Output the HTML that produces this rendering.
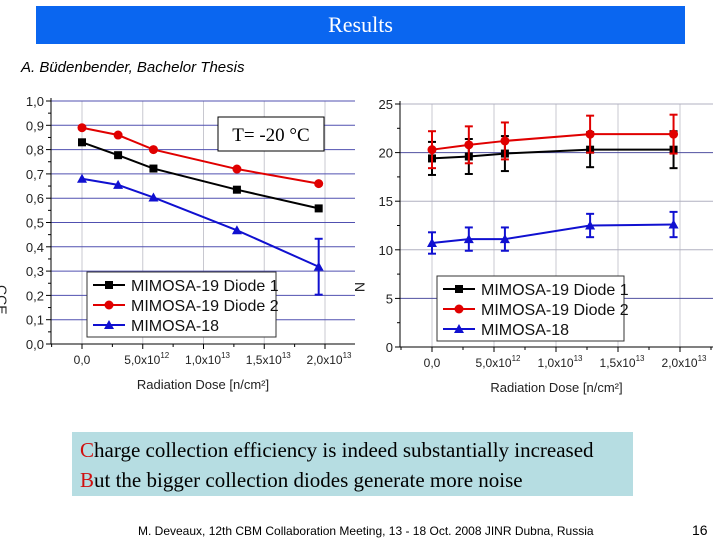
<!DOCTYPE html>
<html><head><meta charset="utf-8">
<style>
body{margin:0;width:720px;height:540px;background:#fff;position:relative;overflow:hidden;font-family:"Liberation Sans",sans-serif}
#hdr{position:absolute;left:36px;top:6px;width:649px;height:38px;background:#0a66f0;color:#fff;font:22px "Liberation Serif",serif;text-align:center;line-height:38px}
#sub{position:absolute;left:21px;top:59px;font:italic 15px "Liberation Sans",sans-serif}
#box{position:absolute;left:72px;top:432px;width:561px;height:64px;background:#b6dde2;font:21px "Liberation Serif",serif;line-height:30px;padding-left:8px;box-sizing:border-box;padding-top:3px}
#box span{color:#d01010}
#foot{position:absolute;left:138px;top:524px;font:12px "Liberation Sans",sans-serif}
#pg{position:absolute;left:692px;top:522px;font:14px "Liberation Sans",sans-serif}
svg{position:absolute;left:0;top:0}
</style></head><body>
<div id="hdr">Results</div>
<div id="sub">A. Büdenbender, Bachelor Thesis</div>
<svg id="chart" width="720" height="420"></svg>
<div id="box"><span>C</span>harge collection efficiency is indeed substantially increased<br><span>B</span>ut the bigger collection diodes generate more noise</div>
<div id="foot">M. Deveaux, 12th CBM Collaboration Meeting, 13 - 18 Oct. 2008 JINR Dubna, Russia</div>
<div id="pg">16</div>
<script>
const doses=[0,2.97e12,5.88e12,1.275e13,1.948e13];
const seriesNames=["MIMOSA-19 Diode 1","MIMOSA-19 Diode 2","MIMOSA-18"];
const cceD1=[0.83,0.777,0.722,0.635,0.558];
const cceD2=[0.89,0.86,0.80,0.72,0.66];
const cceM18=[0.68,0.655,0.603,0.468,0.318];
const cceM18Err=[0,0,0,0,0.115];
const noiseD1=[19.4,19.6,19.9,20.3,20.3];
const noiseD1Err=[1.7,1.8,1.8,1.8,1.9];
const noiseD2=[20.3,20.8,21.2,21.9,21.9];
const noiseD2Err=[1.9,1.9,1.9,1.9,2.0];
const noiseM18=[10.7,11.1,11.1,12.5,12.6];
const noiseM18Err=[1.1,1.2,1.2,1.2,1.3];
const xTicks=["0,0","5,0x10","1,0x10","1,5x10","2,0x10"];
const xTickExp=["","12","13","13","13"];
const leftYTicks=["0,0","0,1","0,2","0,3","0,4","0,5","0,6","0,7","0,8","0,9","1,0"];
const rightYTicks=["0","5","10","15","20","25"];
const colors=["#000","#e00000","#1010d0"];
const svg=document.getElementById('chart');
const NS="http://www.w3.org/2000/svg";
function mk(t,a,p){const e=document.createElementNS(NS,t);for(const k in a)e.setAttribute(k,a[k]);(p||svg).appendChild(e);return e;}
function chart(o){
 const g=mk('g',{});
 
 
 const X=v=>o.x0+(o.x1-o.x0)*v/2e13, Y=v=>o.y0-(o.y0-o.y1)*v/o.ymax;
 for(let i=0;i<5;i++){const x=X(i*5e12);mk('line',{x1:x,x2:x,y1:o.y1,y2:o.y0,stroke:'#c8c8d0','stroke-width':1},g);}
 o.yticks.forEach((t,i)=>{const v=i*o.ystep,y=Y(v);
  if(i>0)mk('line',{x1:o.ax,x2:o.xr,y1:y,y2:y,stroke:o.gridCol(i),'stroke-width':1},g);
  mk('line',{x1:o.ax-5,x2:o.ax,y1:y,y2:y,stroke:'#000'},g);
  if(i<o.yticks.length-1)mk('line',{x1:o.ax-3,x2:o.ax,y1:Y(v+o.ystep/2),y2:Y(v+o.ystep/2),stroke:'#000'},g);
  const tx=mk('text',{x:o.ax-7,y:y+5,'text-anchor':'end','font-size':13,fill:'#222'},g);tx.textContent=t;});
 mk('line',{x1:o.ax,x2:o.ax,y1:o.y1-3,y2:o.y0,stroke:'#000'},g);
 mk('line',{x1:o.ax,x2:o.xr,y1:o.y0,y2:o.y0,stroke:'#000'},g);
 for(let i=-1;i<10;i++){const x=X(i*2.5e12);if(x<o.ax||x>o.xr)continue;mk('line',{x1:x,x2:x,y1:o.y0,y2:o.y0+(i%2==0?5:3),stroke:'#000'},g);}
 xTicks.forEach((t,i)=>{const tx=mk('text',{x:X(i*5e12)+(i?4:0),y:o.y0+20,'text-anchor':'middle','font-size':12,fill:'#222'},g);tx.textContent=t;
  if(xTickExp[i]){const s=mk('tspan',{'font-size':8,dy:-6},tx);s.textContent=xTickExp[i];}});
 const xl=mk('text',{x:(o.ax+o.xr)/2,y:o.y0+45,'text-anchor':'middle','font-size':13,fill:'#222'},g);xl.textContent='Radiation Dose [n/cm²]';
 o.series.forEach((s,k)=>{
  const sg=mk('g',{},g);
  
  
  mk('polyline',{points:s.v.map((v,i)=>X(doses[i])+','+Y(v)).join(' '),fill:'none',stroke:colors[k],'stroke-width':2},sg);
  s.v.forEach((v,i)=>{const x=X(doses[i]),y=Y(v),e=s.e[i];
   if(e){mk('line',{x1:x,x2:x,y1:Y(v-e),y2:Y(v+e),stroke:colors[k],'stroke-width':2},sg);
    [v-e,v+e].forEach(w=>mk('line',{x1:x-4,x2:x+4,y1:Y(w),y2:Y(w),stroke:colors[k],'stroke-width':2},sg));}
   marker(sg,k,x,y);});
 });
 const lg=mk('g',{},g);
 
 
 mk('rect',{x:o.lx,y:o.ly,width:o.lw,height:65,fill:'#fff',stroke:'#333'},lg);
 seriesNames.forEach((n,k)=>{const y=o.ly+13+k*20;
  mk('line',{x1:o.lx+6,x2:o.lx+38,y1:y,y2:y,stroke:colors[k],'stroke-width':2},lg);marker(lg,k,o.lx+22,y);
  const t=mk('text',{x:o.lx+44,y:y+6,'font-size':16,fill:'#111'},lg);t.textContent=n;});
}
function marker(p,k,x,y){
 if(k==0)mk('rect',{x:x-4,y:y-4,width:8,height:8,fill:'#000'},p);
 else if(k==1)mk('circle',{cx:x,cy:y,r:4.5,fill:'#e00000'},p);
 else mk('polygon',{points:`${x},${y-5} ${x-5},${y+4} ${x+5},${y+4}`,fill:'#1010d0'},p);
}
chart({name:'cce-chart',ax:51,xr:355,x0:82,x1:325,y0:344,y1:101,ymax:1.0,ystep:0.1,yticks:leftYTicks,
 gridCol:i=>'#5050b0',lx:87,ly:272,lw:189,
 series:[{v:cceD1,e:[0,0,0,0,0]},{v:cceD2,e:[0,0,0,0,0]},{v:cceM18,e:cceM18Err}]});
chart({name:'noise-chart',ax:400,xr:713,x0:432,x1:680,y0:347,y1:104,ymax:25,ystep:5,yticks:rightYTicks,
 gridCol:i=>(i==1||i==4)?'#5050a0':'#b0b0c0',lx:437,ly:276,lw:187,
 series:[{v:noiseD1,e:noiseD1Err},{v:noiseD2,e:noiseD2Err},{v:noiseM18,e:noiseM18Err}]});
const tb=mk('g',{});


mk('rect',{x:218,y:117,width:106,height:34,fill:'#fff',stroke:'#000'},tb);
const tt=mk('text',{x:271,y:141,'text-anchor':'middle','font-size':19,'font-family':'Liberation Serif, serif'},tb);tt.textContent='T= -20 °C';
const a1=mk('text',{x:4,y:292,'font-size':14,fill:'#222'});a1.textContent='CCE';

a1.setAttribute('transform','rotate(90 4 285)');
const a2=mk('text',{x:357,y:290,'font-size':14,fill:'#222'});a2.textContent='N';

a2.setAttribute('transform','rotate(90 360 285)');
</script>
</body></html>
